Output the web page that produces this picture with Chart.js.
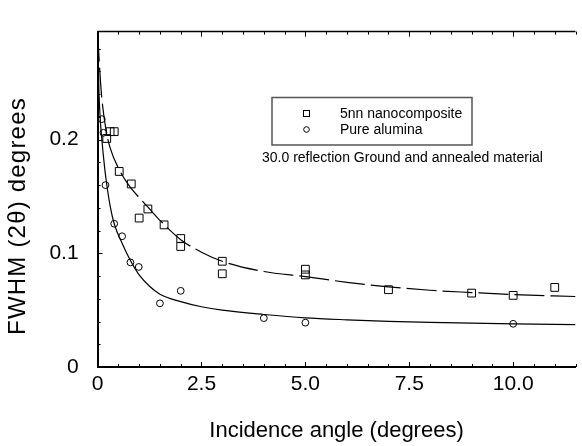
<!DOCTYPE html>
<html>
<head>
<meta charset="utf-8">
<script src="https://cdn.jsdelivr.net/npm/chart.js@4.4.1/dist/chart.umd.min.js"></script>
<style>
  body { margin: 0; background: #fff; }
  #wrap { width: 582px; height: 446px; }
</style>
</head>
<body>
<div id="wrap"><canvas id="fwhmChart" width="582" height="446"></canvas></div>
<script>
// measured points
const nanoX = [0.22, 0.30, 0.40, 0.52, 0.81, 1.0, 1.21, 1.6, 2.0, 2.0, 3.0, 3.0, 5.0, 5.0, 7.0, 9.0, 10.0, 11.0];
const nanoY = [0.201, 0.207, 0.207, 0.172, 0.161, 0.131, 0.139, 0.125, 0.113, 0.106, 0.093, 0.082, 0.086, 0.081, 0.068, 0.065, 0.063, 0.070];
const aluminaX = [0.10, 0.14, 0.19, 0.40, 0.59, 0.79, 0.99, 1.5, 2.0, 4.0, 5.0, 10.0];
const aluminaY = [0.218, 0.206, 0.160, 0.126, 0.115, 0.092, 0.088, 0.056, 0.067, 0.043, 0.039, 0.038];

// fitted curves
const nanoFitX = [0, 0.05, 0.1, 0.2, 0.3, 0.5, 0.75, 1.0, 1.25, 1.5, 2.0, 2.5, 3, 4, 5, 6, 7, 8, 9, 10, 11.5];
const nanoFitY = [0.295, 0.262, 0.237, 0.209, 0.193, 0.175, 0.160, 0.149, 0.139, 0.129, 0.112, 0.101, 0.093, 0.084, 0.0795, 0.0745, 0.0705, 0.0675, 0.0655, 0.0637, 0.062];
const aluminaFitX = [0, 0.03, 0.06, 0.1, 0.15, 0.2, 0.3, 0.4, 0.6, 0.8, 1.0, 1.25, 1.5, 2.0, 2.5, 3, 4, 5, 6, 7, 8, 9, 10, 11.5];
const aluminaFitY = [0.295, 0.245, 0.220, 0.201, 0.182, 0.166, 0.142, 0.126, 0.108, 0.093, 0.081, 0.071, 0.064, 0.0575, 0.053, 0.050, 0.0462, 0.0432, 0.0415, 0.0402, 0.0393, 0.0386, 0.038, 0.0372];

const xTickValues = [0, 2.5, 5, 7.5, 10];
const xTickLabels = ['0', '2.5', '5.0', '7.5', '10.0'];
const yTickValues = [0, 0.1, 0.2];
const yTickLabels = ['0', '0.1', '0.2'];

const seriesNames = ['5nn nanocomposite', 'Pure alumina'];
const noteText = '30.0 reflection Ground and annealed material';
const xTitle = 'Incidence angle (degrees)';
const yTitle = 'FWHM (2\u03b8) degrees';

const FONT = '"Liberation Sans", Arial, sans-serif';
const pts = (xs, ys) => xs.map((x, i) => ({ x: x, y: ys[i] }));

// inward ticks, top frame line, legend box, note and axis titles
const decorations = {
    id: 'decorations',
    afterDraw(chart) {
        const { ctx, chartArea: a, scales: { x, y } } = chart;
        ctx.save();
        ctx.strokeStyle = '#000';
        ctx.lineWidth = 1;
        for (let v = 0.5; v <= 11.5; v += 0.5) {
            const px = Math.round(x.getPixelForValue(v)) + 0.5;
            const len = (v % 2.5 === 0) ? 5 : 3;
            ctx.beginPath();
            ctx.moveTo(px, a.bottom); ctx.lineTo(px, a.bottom - len);
            ctx.moveTo(px, a.top); ctx.lineTo(px, a.top + len);
            ctx.stroke();
        }
        for (let k = 1; k * 0.02 < 0.295; k++) {
            const py = Math.round(y.getPixelForValue(k * 0.02)) + 0.5;
            ctx.beginPath();
            ctx.moveTo(a.left, py); ctx.lineTo(a.left + ((k % 5 === 0) ? 5 : 3), py);
            ctx.stroke();
        }
        ctx.lineWidth = 1.5;
        ctx.beginPath();
        ctx.moveTo(a.left, a.top); ctx.lineTo(a.right, a.top);
        ctx.stroke();

        // legend
        ctx.strokeStyle = '#555';
        ctx.lineWidth = 1.5;
        ctx.strokeRect(272, 97.5, 200, 47.5);
        ctx.strokeStyle = '#000';
        ctx.lineWidth = 1;
        ctx.strokeRect(303.5, 110.5, 6, 6);
        ctx.beginPath();
        ctx.arc(306.5, 129.5, 2.8, 0, Math.PI * 2);
        ctx.stroke();
        ctx.fillStyle = '#000';
        ctx.font = '14px ' + FONT;
        ctx.textBaseline = 'middle';
        ctx.textAlign = 'left';
        ctx.fillText(seriesNames[0], 340, 114);
        ctx.fillText(seriesNames[1], 340, 130);
        ctx.fillText(noteText, 262, 158);

        // axis titles
        ctx.font = '22px ' + FONT;
        ctx.textAlign = 'center';
        ctx.fillText(xTitle, (a.left + a.right) / 2, 431);
        ctx.translate(18, 216);
        ctx.rotate(-Math.PI / 2);
        ctx.font = '24px ' + FONT;
        ctx.letterSpacing = '1.2px';
        ctx.fillText(yTitle, 0, 0);
        ctx.restore();
    }
};

new Chart(document.getElementById('fwhmChart'), {
    type: 'scatter',
    data: {
        datasets: [
            {
                label: seriesNames[0],
                data: pts(nanoX, nanoY),
                pointStyle: 'rect',
                pointRadius: 5.5,
                borderColor: '#000',
                backgroundColor: 'rgba(0,0,0,0)',
                borderWidth: 1
            },
            {
                label: seriesNames[1],
                data: pts(aluminaX, aluminaY),
                pointStyle: 'circle',
                pointRadius: 3.4,
                borderColor: '#000',
                backgroundColor: 'rgba(0,0,0,0)',
                borderWidth: 1
            },
            {
                label: 'nano fit',
                type: 'line',
                data: pts(nanoFitX, nanoFitY),
                borderColor: '#000',
                borderWidth: 1.2,
                borderDash: [30, 6],
                pointRadius: 0,
                cubicInterpolationMode: 'monotone',
                fill: false
            },
            {
                label: 'alumina fit',
                type: 'line',
                data: pts(aluminaFitX, aluminaFitY),
                borderColor: '#000',
                borderWidth: 1.2,
                pointRadius: 0,
                cubicInterpolationMode: 'monotone',
                fill: false
            }
        ]
    },
    options: {
        responsive: false,
        animation: false,
        layout: { padding: { top: 14, left: 0, right: 0, bottom: 0 } },
        plugins: { legend: { display: false }, tooltip: { enabled: false } },
        scales: {
            x: {
                type: 'linear',
                min: 0,
                max: 11.5,
                afterFit: s => { s.height = 79; },
                afterBuildTicks: s => { s.ticks = xTickValues.map(v => ({ value: v })); },
                grid: { display: false, drawTicks: false },
                border: { display: true, color: '#000', width: 2 },
                ticks: {
                    color: '#000',
                    font: { family: FONT, size: 21 },
                    padding: 5,
                    maxRotation: 0,
                    callback: v => xTickLabels[xTickValues.indexOf(v)]
                }
            },
            y: {
                type: 'linear',
                min: 0,
                max: 0.295,
                afterFit: s => { s.width = 97.6; },
                afterBuildTicks: s => { s.ticks = yTickValues.map(v => ({ value: v })); },
                grid: { display: false, drawTicks: false },
                border: { display: true, color: '#000', width: 2 },
                ticks: {
                    color: '#000',
                    font: { family: FONT, size: 21 },
                    padding: 19,
                    callback: v => yTickLabels[yTickValues.indexOf(v)]
                }
            }
        }
    },
    plugins: [decorations]
});
</script>
</body>
</html>
